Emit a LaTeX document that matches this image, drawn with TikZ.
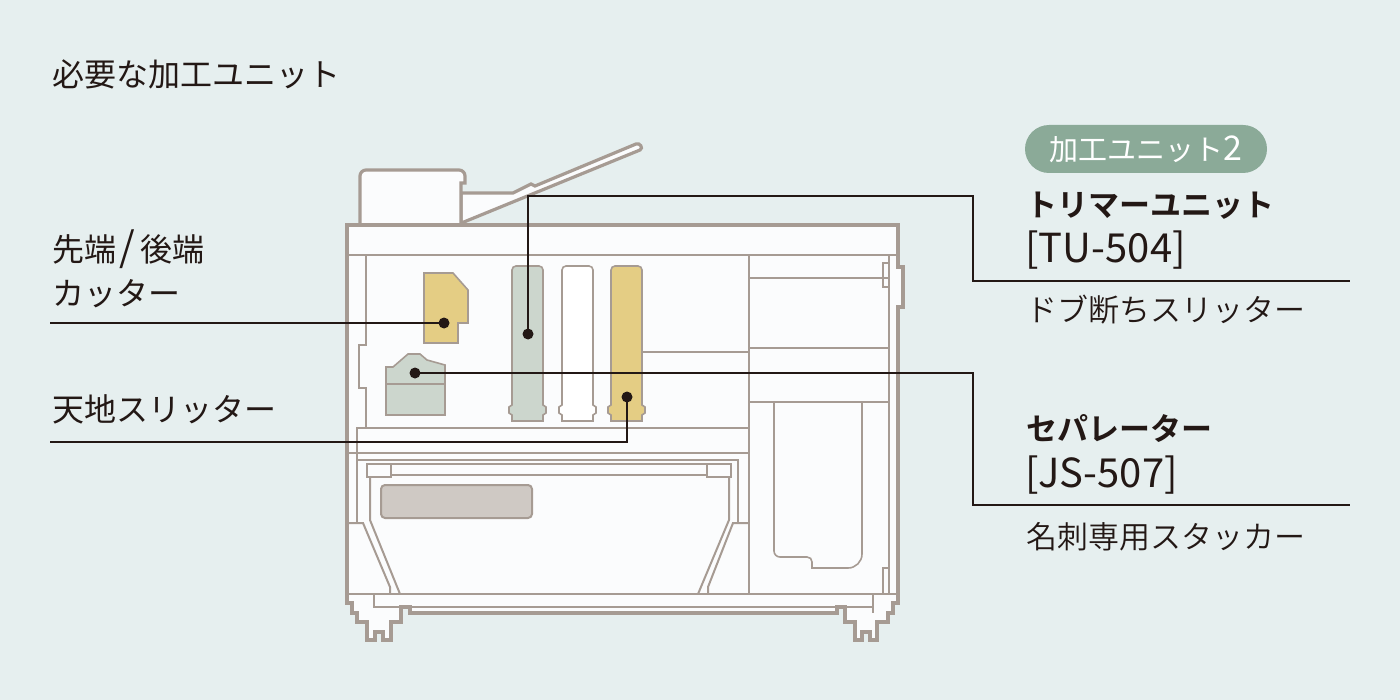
\documentclass[tikz,border=0pt]{standalone}
\usepackage{fontspec}
\setmainfont{Noto Sans CJK JP}[BoldFont={Noto Sans CJK JP Bold}]
\newfontfamily\lightjp{Noto Sans CJK JP DemiLight}
\definecolor{bg}{HTML}{E6EFEF}
\definecolor{bodyfill}{HTML}{FBFCFD}
\definecolor{edge}{HTML}{A69B93}
\definecolor{ink}{HTML}{231815}
\definecolor{yel}{HTML}{E4CD84}
\definecolor{sage}{HTML}{CCD6CD}
\definecolor{greyrect}{HTML}{CFC9C4}
\definecolor{pill}{HTML}{8BAA98}
\begin{document}
\begin{tikzpicture}[x=0.5pt,y=-0.5pt,
  outer/.style={draw=edge,line width=1.6pt,fill=bodyfill,line join=miter},
  inner/.style={draw=edge,line width=1pt},
  part/.style={draw=edge,line width=0.8pt},
  lead/.style={draw=ink,line width=1pt},
  dotn/.style={circle,fill=ink,inner sep=0pt,minimum size=5.5pt},
  lbl/.style={anchor=base west,inner sep=0pt,text=ink,font=\fontsize{16}{19}\selectfont},
  rlbl/.style={anchor=base west,inner sep=0pt,text=ink,font=\fontsize{15.5}{19}\selectfont},
  rlight/.style={rlbl,font=\fontsize{15.5}{19}\selectfont\lightjp},
  rbold/.style={rlbl,font=\fontsize{15.5}{19}\selectfont\bfseries},
  rcode/.style={rlbl,font=\fontsize{20}{22}\selectfont},
]
\fill[bg] (0,0) rectangle (1400,700);
\useasboundingbox (0,0) rectangle (1400,700);

% ---------- document feeder tray and box ----------
\path[outer] (461,225) -- (461,193) -- (513,193) -- (531,184) -- (535,186) -- (636,144)
  .. controls (640,142.5) and (643.5,148) .. (640,150) -- (459,224) -- cycle;
\path[outer] (360,226) -- (360,176) .. controls (360,172.7) and (362.7,170) .. (366,170)
  -- (459,170) .. controls (462.3,170) and (465,172.7) .. (465,176) -- (465,183) -- (461,183) -- (461,226) -- cycle;

% ---------- main body outline with feet ----------
\path[outer] (347,225) -- (898,225) -- (898,267) -- (903,267) -- (903,307) -- (898,307) -- (898,603)
  -- (893,603) -- (893,613) -- (888,613) -- (888,622) -- (877,622) -- (877,640) -- (870,640) -- (870,632)
  -- (862,632) -- (862,640) -- (855,640) -- (855,622) -- (845,622) -- (845,607) -- (837,607) -- (837,613)
  -- (410,613) -- (410,607) -- (401,607) -- (401,622) -- (391,622) -- (391,640) -- (383,640) -- (383,632)
  -- (375,632) -- (375,640) -- (367,640) -- (367,622) -- (357,622) -- (357,613) -- (352,613) -- (352,603)
  -- (347,603) -- cycle;

% ---------- interior lines ----------
\draw[inner] (347,255) -- (898,255);
\draw[inner] (366,255) -- (366,345) -- (359,345) -- (359,388) -- (366,388) -- (366,428);
\draw[inner] (357,523) -- (357,428) -- (749,428);
\draw[inner] (347,453) -- (749,453);
\draw[inner] (357,460) -- (738,460) -- (738,523);
\draw[inner] (347,523) -- (363,523) -- (390,587) -- (390,594);
\draw[inner] (370,478) -- (370,520) -- (400,594);
\draw[inner] (749,523) -- (733,523) -- (708,587) -- (708,594);
\draw[inner] (729,478) -- (729,520) -- (698,594);
\draw[inner] (391,464) rectangle (707,475);
\draw[inner] (367,464) rectangle (391,477);
\draw[inner] (707,464) rectangle (731,477);
\draw[inner,fill=greyrect,rounded corners=2pt] (381,485) rectangle (532,518);
\draw[inner] (347,594) -- (898,594);
\draw[inner] (374,594) -- (374,607) -- (873,607);
\draw[inner] (873,594) -- (873,613);
% right column
\draw[inner] (749,255) -- (749,594);
\draw[inner] (889,255) -- (889,594);
\draw[inner] (749,278) -- (889,278);
\draw[inner] (749,348) -- (889,348);
\draw[inner] (749,402) -- (889,402);
\draw[inner] (642,352) -- (749,352);
\draw[inner] (883,263) rectangle (889,287);
\draw[inner] (883,568) rectangle (889,594);
% stacker
\draw[part] (774,402) -- (774,551) .. controls (774,554.3) and (776.7,557) .. (780,557) -- (807,557)
  .. controls (810,557) and (812,559) .. (812,562) -- (812,568) -- (848,568)
  .. controls (855.7,568) and (862,561.7) .. (862,554) -- (862,402);

% ---------- processing units ----------
\draw[part,fill=yel] (424,273) -- (453,273) -- (468,290) -- (468,323) -- (458,323) -- (458,343) -- (424,343) -- cycle;
\draw[part,fill=sage] (386,415) -- (386,367) -- (393,367) -- (408,354) -- (420,354) -- (427,360) -- (445,365) -- (445,415) -- cycle;
\draw[part] (386,384) -- (445,384);

\begin{scope}[shift={(512,0)}]
\draw[part,fill=sage] (0,405) -- (0,270) .. controls (0,267.8) and (1.8,266) .. (4,266) -- (27,266)
  .. controls (29.2,266) and (31,267.8) .. (31,270) -- (31,405) -- (34,407) -- (34,413) -- (31,415)
  -- (31,421) -- (0,421) -- (0,415) -- (-3,413) -- (-3,407) -- cycle;
\end{scope}
\begin{scope}[shift={(562,0)}]
\draw[part,fill=white] (0,405) -- (0,270) .. controls (0,267.8) and (1.8,266) .. (4,266) -- (27,266)
  .. controls (29.2,266) and (31,267.8) .. (31,270) -- (31,405) -- (34,407) -- (34,413) -- (31,415)
  -- (31,421) -- (0,421) -- (0,415) -- (-3,413) -- (-3,407) -- cycle;
\end{scope}
\begin{scope}[shift={(611,0)}]
\draw[part,fill=yel] (0,405) -- (0,270) .. controls (0,267.8) and (1.8,266) .. (4,266) -- (27,266)
  .. controls (29.2,266) and (31,267.8) .. (31,270) -- (31,405) -- (34,407) -- (34,413) -- (31,415)
  -- (31,421) -- (0,421) -- (0,415) -- (-3,413) -- (-3,407) -- cycle;
\end{scope}

% ---------- texts ----------
\node[lbl] (title) at (52,87) {必要な加工ユニット};
\node[lbl] (t1a) at (52,261) {先端\hspace{1.5pt}{\fontsize{20}{20}\selectfont /}\hspace{2.5pt}後端};
\node[lbl] (t1b) at (52,305) {カッター};
\node[lbl] (t2) at (52,421) {天地スリッター};

\node[fill=pill,rounded corners=12pt,minimum width=121pt,minimum height=24pt,inner sep=0pt,
  text=white,font=\fontsize{14.5}{17}\selectfont] (pill) at (1146,149) {加工ユニット{\fontsize{17}{17}\selectfont 2}};
\node[rbold] (r1a) at (1026,216) {トリマーユニット};
\node[rcode] (r1b) at (1025,262) {[TU-504]};
\node[rlight] (r1c) at (1026,321) {ドブ断ちスリッター};
\node[rbold] (r2a) at (1026,440) {セパレーター};
\node[rcode] (r2b) at (1025,487) {[JS-507]};
\node[rlight] (r2c) at (1026,548) {名刺専用スタッカー};

% ---------- leaders ----------
\node[dotn] (d1) at (444,323) {};
\node[dotn] (d2) at (528,334) {};
\node[dotn] (d3) at (415,373) {};
\node[dotn] (d4) at (627,397) {};
\coordinate (l1) at (50,323);
\coordinate (l2) at (50,442);
\coordinate (k1) at (973,196);
\coordinate (k2) at (973,373);
\coordinate (e1) at (1350,281);
\coordinate (e2) at (1350,505);
\draw[lead] (l1) -- (d1.center);
\draw[lead] (l2) -| (d4.center);
\draw[lead] (d2.center) |- (k1) |- (e1);
\draw[lead] (d3.center) -- (k2) |- (e2);
\end{tikzpicture}
\end{document}
